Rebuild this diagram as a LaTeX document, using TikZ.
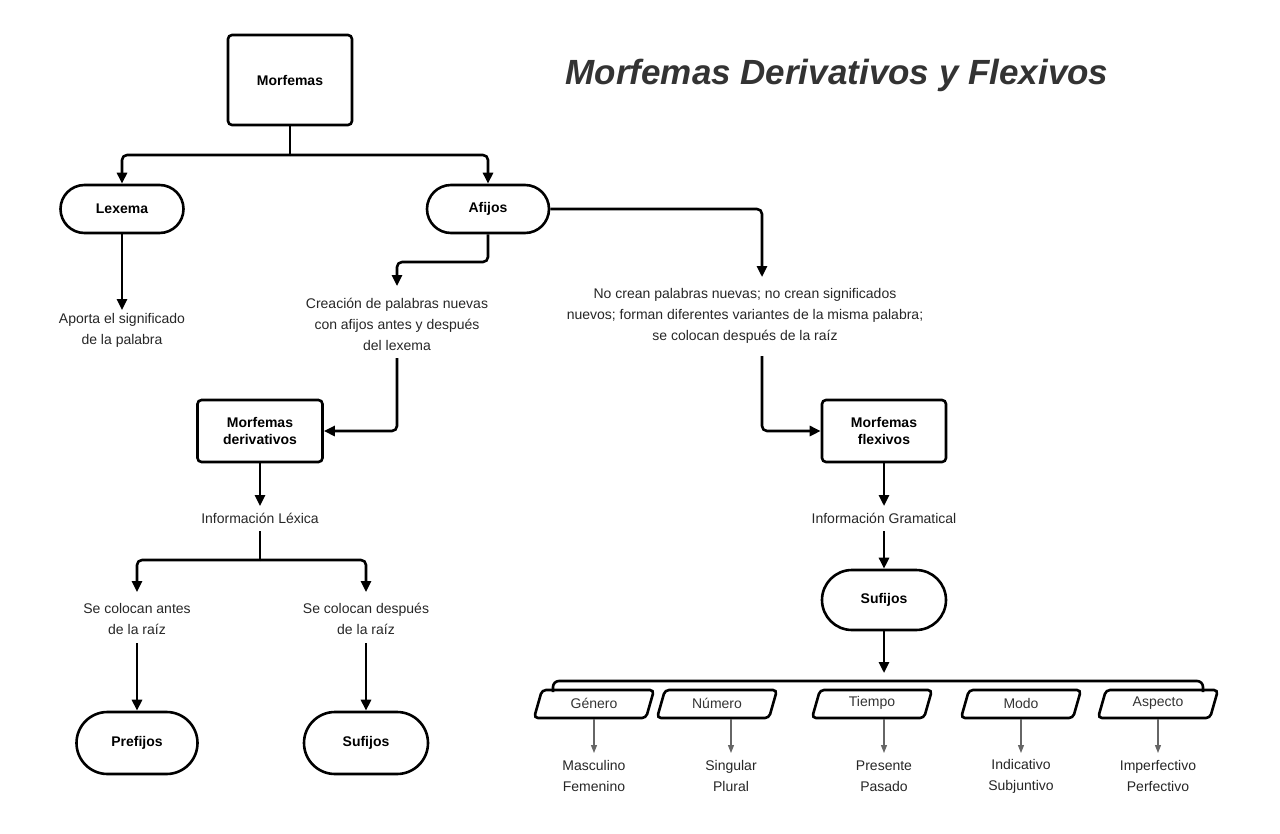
\documentclass[tikz,border=0pt]{standalone}
\usepackage{fontspec}
\setmainfont{Liberation Sans}
\usetikzlibrary{shapes.misc,arrows.meta}
\begin{document}
\begin{tikzpicture}[x=1pt,y=-1pt,
  ln/.style={line width=2.6pt,line join=round},
  ar/.style={ln,-{Triangle[length=11pt,width=10pt]}},
  box/.style={draw,line width=2.6pt,rounded corners=4pt,font=\fontsize{14}{17}\selectfont\bfseries,align=center,inner sep=0pt},
  stad/.style={draw,line width=2.6pt,rounded rectangle,font=\fontsize{14}{17}\selectfont\bfseries,inner sep=0pt},
  txt/.style={font=\fontsize{14}{21}\selectfont,align=center,text=black!85},
  gar/.style={line width=1.2pt,draw=black!60,-{Triangle[length=8pt,width=6pt]},black!60}]
\useasboundingbox (0,0) rectangle (1280,833);
\node[font=\fontsize{35}{40}\selectfont\bfseries\itshape,text=black!80] (title) at (837,75) {Morfemas Derivativos y Flexivos};
\node[box,minimum width=124pt,minimum height=90pt] (mor) at (290,80) {Morfemas};
\node[stad,minimum width=123pt,minimum height=48pt] (lex) at (122,209) {Lexema};
\node[stad,minimum width=122pt,minimum height=48pt] (afi) at (488,209) {Afijos};
\node[txt] (t1) at (122,330) {Aporta el significado\\de la palabra};
\node[txt] (t2) at (397,324) {Creación de palabras nuevas\\con afijos antes y después\\del lexema};
\node[txt] (t3) at (745,316) {No crean palabras nuevas; no crean significados\\nuevos; forman diferentes variantes de la misma palabra;\\se colocan después de la raíz};
\node[box,minimum width=125pt,minimum height=62pt] (der) at (260,431) {Morfemas\\derivativos};
\node[box,minimum width=124pt,minimum height=62pt] (fle) at (884,431) {Morfemas\\flexivos};
\node[txt] (il) at (260,518) {Información Léxica};
\node[txt] (ig) at (884,518) {Información Gramatical};
\node[txt] (ant) at (137,619) {Se colocan antes\\de la raíz};
\node[txt] (des) at (366,619) {Se colocan después\\de la raíz};
\node[stad,minimum width=121pt,minimum height=62pt] (pre) at (137,743) {Prefijos};
\node[stad,minimum width=124pt,minimum height=62pt] (suf1) at (366,743) {Sufijos};
\node[stad,minimum width=124pt,minimum height=60pt] (suf2) at (884,600) {Sufijos};
% connectors
\draw[ln] (mor.south) -- (290,155);
\draw[ar,rounded corners=5pt] (290,155) -| (lex.north);
\draw[ar,rounded corners=5pt] (290,155) -| (afi.north);
\draw[ar] (lex.south) -- (122,310);
\draw[ar,rounded corners=5pt] (afi.south) |- (397,262) -- (397,286);
\draw[ar,rounded corners=5pt] (afi.east) -| (762,277);
\draw[ar,rounded corners=5pt] (397,358) |- (der.east);
\draw[ar,rounded corners=5pt] (762,356) |- (fle.west);
\draw[ar] (der.south) -- (260,506);
\draw[ar] (fle.south) -- (884,506);
\draw[ln] (260,531) -- (260,560);
\draw[ar,rounded corners=5pt] (260,560) -| (137,592);
\draw[ar,rounded corners=5pt] (260,560) -| (366,592);
\draw[ar] (137,643) -- (pre.north);
\draw[ar] (366,643) -- (suf1.north);
\draw[ar] (884,531) -- (suf2.north);
\draw[ar] (suf2.south) -- (884,673);
\coordinate (hl) at (553,681);
\coordinate (hr) at (1203,681);
\draw[ln,rounded corners=6pt] (553,692) -- (hl) -- (hr) -- (1203,692);
\foreach \n/\x/\t in {g/594/Género,n/717/Número,ti/872/Tiempo,mo/1021/Modo,as/1158/Aspecto}{
  \draw[line width=2.6pt,rounded corners=4pt] (\x-52,690) -- (\x+60,690) -- (\x+52,718) -- (\x-60,718) -- cycle;
  \node[font=\fontsize{14}{17}\selectfont,text=black!80] (p\n) at (\x,703) {\t};
}
\node[txt] (v1) at (594,776) {Masculino\\Femenino};
\node[txt] (v2) at (731,776) {Singular\\Plural};
\node[txt] (v3) at (884,776) {Presente\\Pasado};
\node[txt] (v4) at (1021,776) {Indicativo\\Subjuntivo};
\node[txt] (v5) at (1158,776) {Imperfectivo\\Perfectivo};
\draw[gar] (594,719) -- (594,753);
\draw[gar] (731,719) -- (731,753);
\draw[gar] (884,719) -- (884,753);
\draw[gar] (1021,719) -- (1021,753);
\draw[gar] (1158,719) -- (1158,753);
\end{tikzpicture}
\end{document}
